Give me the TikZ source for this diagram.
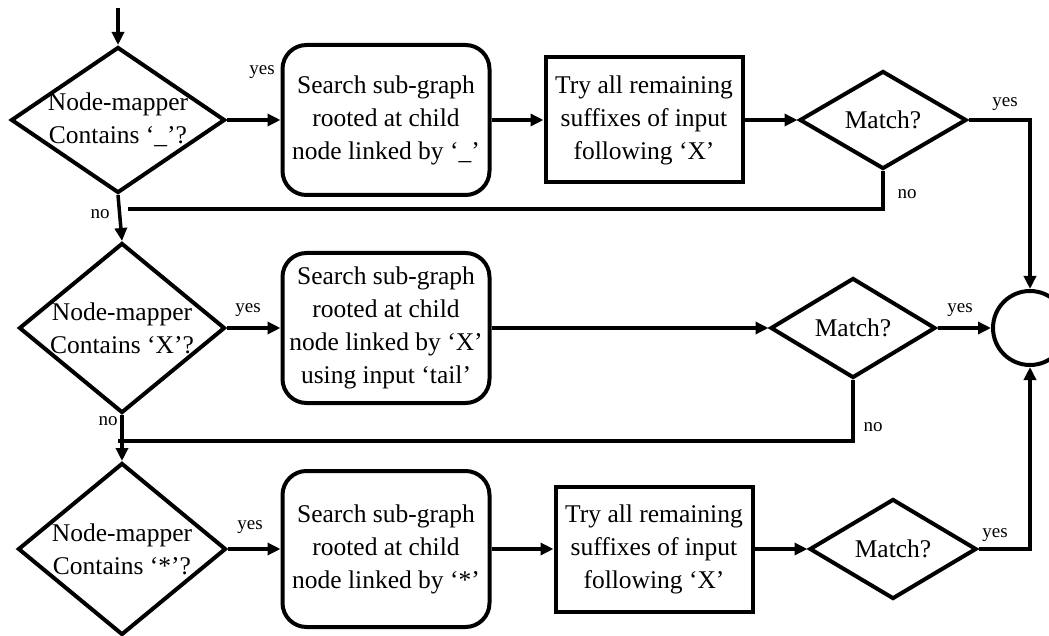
\documentclass[tikz,border=0pt]{standalone}
\usepackage{fontspec}
\setmainfont{Liberation Serif}
\usetikzlibrary{shapes.geometric,arrows.meta}

\tikzset{
  dia/.style={diamond, draw, line width=4pt, inner sep=0pt},
  dtxt/.style={align=center, inner sep=0pt},
  rbox/.style={draw, rounded corners=24pt, line width=4pt, align=center,
    minimum width=207pt, minimum height=150pt, inner sep=0pt},
  sbox/.style={draw, line width=4pt, align=center,
    minimum width=197pt, minimum height=125pt, inner sep=0pt},
  lbl/.style={font=\fontsize{19}{22}\selectfont, inner sep=0pt},
  ln/.style={line width=3.5pt},
  arr/.style={line width=3.5pt, -{Triangle[length=13pt,width=12pt]}}
}

\begin{document}
\begin{tikzpicture}[x=1pt, y=-1pt, font=\fontsize{25.5}{33}\selectfont]
\useasboundingbox (0,0) rectangle (1049,636);

\coordinate (top) at (118,8);

\node[dia, minimum width=214pt, minimum height=146pt,
  label={[dtxt]center:{Node-mapper\\Contains ‘\_’?}}] (d1) at (118,120) {};
\node[dia, minimum width=206pt, minimum height=170pt,
  label={[dtxt]center:{Node-mapper\\Contains ‘X’?}}] (d2) at (122,328) {};
\node[dia, minimum width=208pt, minimum height=172pt,
  label={[dtxt]center:{Node-mapper\\Contains ‘*’?}}] (d3) at (122,549) {};

\node[rbox] (b1) at (386,120) {Search sub-graph\\rooted at child\\node linked by ‘\_’};
\node[rbox] (b2) at (386,328) {Search sub-graph\\rooted at child\\node linked by ‘X’\\using input ‘tail’};
\node[rbox, minimum height=156pt] (b3) at (386,549) {Search sub-graph\\rooted at child\\node linked by ‘*’};

\node[sbox] (s1) at (644,120) {Try all remaining\\suffixes of input\\following ‘X’};
\node[sbox] (s3) at (654,549) {Try all remaining\\suffixes of input\\following ‘X’};

\node[dia, minimum width=167pt, minimum height=98pt] (m1) at (883,120) {Match?};
\node[dia, minimum width=165pt, minimum height=100pt] (m2) at (853,328) {Match?};
\node[dia, minimum width=167pt, minimum height=100pt] (m3) at (893,549) {Match?};

\node[circle, draw, line width=4pt, minimum size=74pt, inner sep=0pt] (c) at (1030,328) {};

\coordinate (n1) at (128,209);
\coordinate (n2) at (118,441);

\node[lbl] (y1) at (262,72) {yes};
\node[lbl] (y2) at (248,310) {yes};
\node[lbl] (y3) at (250,527) {yes};
\node[lbl] (y4) at (1005,104) {yes};
\node[lbl] (y5) at (960,310) {yes};
\node[lbl] (y6) at (995,535) {yes};
\node[lbl] (o1) at (100,214) {no};
\node[lbl] (o2) at (108,421) {no};
\node[lbl] (o3) at (907,194) {no};
\node[lbl] (o4) at (873,427) {no};

\draw[arr] (top) -- (d1.north);
\draw[arr] (d1.east) -- (b1.west);
\draw[arr] (b1.east) -- (s1.west);
\draw[arr] (s1.east) -- (m1.west);
\draw[arr] (m1.east) -| (c.north);
\draw[ln] (m1.south) |- (n1);
\draw[arr] (d1.south) -- (d2.north);

\draw[arr] (d2.east) -- (b2.west);
\draw[arr] (b2.east) -- (m2.west);
\draw[arr] (m2.east) -- (c.west);
\draw[ln] (m2.south) |- (n2);
\draw[arr] (d2.south) -- (d3.north);

\draw[arr] (d3.east) -- (b3.west);
\draw[arr] (b3.east) -- (s3.west);
\draw[arr] (s3.east) -- (m3.west);
\draw[arr] (m3.east) -| (c.south);

\end{tikzpicture}
\end{document}
